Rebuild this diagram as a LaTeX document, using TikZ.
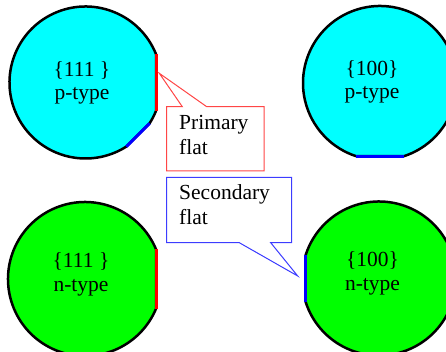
\documentclass[tikz,border=0pt]{standalone}
\usepackage{fontspec}
\setmainfont{Liberation Serif}
\usetikzlibrary{calc}
\definecolor{wcyan}{RGB}{0,255,255}
\definecolor{wgreen}{RGB}{0,255,0}
\definecolor{calred}{RGB}{255,70,70}
\definecolor{calblue}{RGB}{60,60,255}
\begin{document}
\begin{tikzpicture}[x=1pt,y=1pt,
  wafer/.style={draw=black, line width=2.5pt, line join=round},
  pflat/.style={draw=red, line width=3pt},
  sflat/.style={draw=blue, line width=3pt},
  lbl/.style={font=\fontsize{21.5}{25}\selectfont, inner sep=0pt, anchor=base},
  ctext/.style={font=\fontsize{21.5}{25}\selectfont, inner sep=0pt, anchor=base west},
  callr/.style={draw=calred, fill=white, line width=1pt},
  callb/.style={draw=calblue, fill=white, line width=1pt}]
\useasboundingbox (0,0) rectangle (446,352);
\coordinate (c1) at (85.5,269.5);
\coordinate (c2) at (380,269);
\coordinate (c3) at (85,73);
\coordinate (c4) at (379,73.5);
% top-left {111} p-type
\filldraw[wafer, fill=wcyan] ($(c1)+(21.9:76pt)$) arc[start angle=21.9, end angle=302.5, radius=76pt]
  -- ($(c1)+(-32.5:76pt)$) arc[start angle=-32.5, end angle=-21.9, radius=76pt] -- cycle;
\draw[pflat] ($(c1)+(-21.9:76pt)$) -- ($(c1)+(21.9:76pt)$);
\draw[sflat] ($(c1)+(-57.5:76pt)$) -- ($(c1)+(-32.5:76pt)$);
% top-right {100} p-type
\filldraw[wafer, fill=wcyan] ($(c2)+(-71.5:77pt)$) arc[start angle=-71.5, end angle=251.5, radius=77pt] -- cycle;
\draw[sflat] ($(c2)+(251.5:77pt)$) -- ($(c2)+(288.5:77pt)$);
% bottom-left {111} n-type
\filldraw[wafer, fill=wgreen] ($(c3)+(22.7:77pt)$) arc[start angle=22.7, end angle=337.3, radius=77pt] -- cycle;
\draw[pflat] ($(c3)+(-22.7:77pt)$) -- ($(c3)+(22.7:77pt)$);
% bottom-right {100} n-type
\filldraw[wafer, fill=wgreen] ($(c4)+(-162.2:77pt)$) arc[start angle=-162.2, end angle=162.2, radius=77pt] -- cycle;
\draw[sflat] ($(c4)+(162.2:77pt)$) -- ($(c4)+(197.8:77pt)$);
% labels
\node[lbl] (t1a) at (82,275) {\{111 \}};
\node[lbl] (t1b) at (82,252) {p-type};
\node[lbl] (t2a) at (372,276) {\{100\}};
\node[lbl] (t2b) at (372,253) {p-type};
\node[lbl] (t3a) at (81,84) {\{111 \}};
\node[lbl] (t3b) at (81,60.5) {n-type};
\node[lbl] (t4a) at (372.5,85) {\{100\}};
\node[lbl] (t4b) at (372.5,61.5) {n-type};
% primary callout
\coordinate (ptip) at (159.3,278.7);
\draw[callr] (166.7,245.3) -- (182.3,245.3) -- (ptip) -- (206.7,245.3) -- (264,245.3)
  -- (264,181) -- (166.7,181) -- cycle;
\node[ctext] (pri1) at (179,222) {Primary};
\node[ctext] (pri2) at (179,197) {flat};
% secondary callout
\coordinate (stip) at (297.7,76);
\draw[callb] (166.7,174.7) -- (291.7,174.7) -- (291.7,109.3) -- (270.7,109.3) -- (stip)
  -- (239.3,109.3) -- (166.7,109.3) -- cycle;
\node[ctext] (sec1) at (179,152) {Secondary};
\node[ctext] (sec2) at (179,127) {flat};
\end{tikzpicture}
\end{document}
